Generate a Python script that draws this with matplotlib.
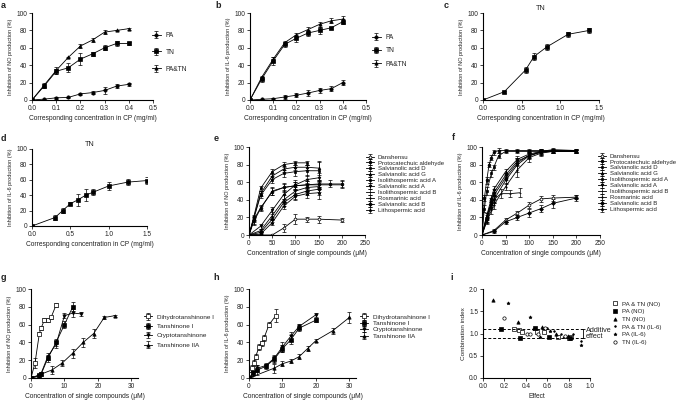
import matplotlib
matplotlib.use("Agg")
import matplotlib.pyplot as plt

plt.rcParams['font.family'] = ['Liberation Sans', 'DejaVu Sans']
plt.rcParams['text.color'] = '#222222'
plt.rcParams['axes.labelcolor'] = '#222222'
plt.rcParams['xtick.color'] = '#222222'
plt.rcParams['ytick.color'] = '#222222'

W, H = 685, 400

# ---- panel a / b: PA, TN, PA&TN in CP ----
cp_x = [0, 0.05, 0.1, 0.15, 0.2, 0.25, 0.3, 0.35, 0.4]
a_pa = [0, 1, 2.5, 3, 7, 8.5, 11, 16, 18]
a_pa_err = [0, 0.5, 1, 1, 1.5, 2, 4, 2, 2]
a_tn = [0, 16, 33, 37, 47, 53, 60, 65, 65]
a_tn_err = [0, 2, 3, 5, 7, 2, 3, 3, 2]
a_pt = [0, 17, 34, 49, 62, 69, 78, 80, 82]
a_pt_err = [0, 2, 4, 1, 2, 2, 2, 1, 1]

b_pa = [0, 0.8, 1.5, 3.5, 5.5, 8, 11, 13, 20]
b_pa_err = [0, 0.5, 1, 2, 2, 3, 3, 3, 3]
b_tn = [0, 24, 45, 64, 71, 77, 80, 83, 90]
b_tn_err = [0, 3, 5, 3, 4, 4, 4, 1, 3]
b_pt = [0, 26, 47, 66, 75, 81, 87, 91, 93]
b_pt_err = [0, 2, 3, 2, 2, 3, 3, 3, 4]

# ---- panel c / d: TN alone ----
c_x = [0, 0.275, 0.55, 0.66, 0.825, 1.1, 1.375]
c_y = [0, 9.5, 34.5, 50, 61, 75.5, 80]
c_err = [0, 1, 3, 4, 3.5, 3, 3]

d_x = [0, 0.3, 0.4, 0.5, 0.6, 0.7, 0.8, 1.0, 1.25, 1.5]
d_y = [0, 11, 20, 29, 34, 40, 44, 52, 57, 59]
d_err = [0, 3, 3, 2, 8, 8, 4, 5, 4, 4]

# ---- panel e / f: single compounds from PA ----
pa_names = ['Danshensu', 'Protocatechuic aldehyde', 'Salvianolic acid D',
            'Salvianolic acid G', 'Isolithospermic acid A', 'Salvianolic acid A',
            'Isolithospermic acid B', 'Rosmarinic acid', 'Salvianolic acid B',
            'Lithospermic acid']

e_x = [
    [0, 25, 50, 75, 100, 125, 150, 200],
    [0, 10, 25, 50, 75, 100, 125, 150, 175, 200],
    [0, 10, 25, 50, 75, 100, 125],
    [0, 10, 25, 50, 75, 100, 125, 150],
    [0, 10, 25, 50, 75, 100, 125, 150],
    [0, 25, 50, 75, 100, 125, 150],
    [0, 10, 25, 50, 75, 100, 125, 150, 200],
    [0, 25, 50, 75, 100, 125, 150],
    [0, 25, 50, 75, 100, 125, 150],
    [0, 25, 50, 75, 100, 125, 150],
]
e_y = [
    [0, 0, 0, 8, 18, 18, 18, 17],
    [0, 17, 31, 49, 54, 56, 57, 58, 58, 58],
    [0, 20, 53, 72, 80, 82, 82],
    [0, 19, 47, 67, 75, 77, 77, 76],
    [0, 18, 45, 63, 70, 72, 73, 73],
    [0, 10, 28, 46, 57, 63, 65],
    [0, 15, 30, 50, 54, 56, 57, 57, 57],
    [0, 5, 22, 40, 50, 54, 55],
    [0, 3, 18, 37, 46, 50, 52],
    [0, 1, 14, 33, 44, 47, 48],
]
e_err = [
    [0, 0, 0, 5, 6, 3, 4, 2],
    [0, 4, 3, 4, 5, 4, 4, 4, 4, 4],
    [0, 3, 3, 3, 3, 2, 2],
    [0, 3, 3, 3, 3, 3, 3, 8],
    [0, 3, 3, 4, 4, 5, 6, 10],
    [0, 3, 4, 5, 6, 5, 5],
    [0, 4, 3, 4, 4, 4, 4, 4, 4],
    [0, 2, 4, 5, 5, 5, 6],
    [0, 2, 3, 4, 5, 5, 6],
    [0, 1, 3, 4, 4, 5, 7],
]

f_x = [
    [0, 25, 50, 75, 100, 125, 150, 200],
    [0, 5, 10, 15, 20, 25, 35, 50, 75, 100, 125, 150, 200],
    [0, 5, 10, 20, 25, 35, 50, 75, 100, 125, 150, 200],
    [0, 10, 20, 25, 50, 75, 100, 125, 150, 200],
    [0, 10, 20, 25, 50, 75, 100, 125, 150, 200],
    [0, 10, 20, 25, 50, 75, 100, 125, 150, 200],
    [0, 10, 20, 25, 40, 60, 80],
    [0, 10, 20, 25, 50, 75, 100, 125, 150, 200],
    [0, 25, 50, 75, 100, 125, 150, 200],
    [0, 10, 20, 25, 50, 75, 100, 125, 150, 200],
]
f_y = [
    [0, 5, 17, 25, 34, 41, 42, 43],
    [0, 42, 62, 80, 88, 94, 96, 96, 96, 96, 96, 96, 96],
    [0, 30, 50, 70, 77, 90, 95, 95, 95, 95, 95, 95],
    [0, 22, 42, 52, 72, 86, 92, 95, 95, 95],
    [0, 20, 38, 48, 68, 84, 90, 94, 96, 95],
    [0, 17, 33, 40, 62, 80, 90, 95, 97, 96],
    [0, 22, 36, 40, 47, 47, 48],
    [0, 15, 28, 34, 55, 74, 88, 93, 95, 96],
    [0, 4, 15, 20, 25, 30, 36, 42],
    [0, 18, 35, 45, 65, 82, 91, 94, 95, 95],
]
f_err = [
    [0, 2, 2, 2, 3, 3, 3, 2],
    [0, 3, 4, 3, 3, 3, 3, 2, 2, 2, 2, 2, 2],
    [0, 4, 5, 4, 3, 3, 2, 2, 2, 2, 2, 2],
    [0, 3, 4, 4, 3, 4, 3, 3, 2, 2],
    [0, 3, 4, 4, 3, 4, 3, 3, 2, 2],
    [0, 3, 4, 4, 4, 8, 4, 3, 2, 2],
    [0, 3, 4, 4, 5, 4, 5],
    [0, 3, 4, 4, 4, 8, 5, 3, 2, 2],
    [0, 2, 2, 3, 4, 4, 5, 3],
    [0, 3, 4, 4, 3, 4, 3, 3, 2, 2],
]
pa_markers = ['o', 'o', 's', '^', 's', 'v', '_', '.', 'D', '*']
pa_fill = ['white'] + ['black'] * 9

# ---- panel g / h: single compounds from TN ----
tn_names = ['Dihydrotanshinone I', 'Tanshinone I', 'Cryptotanshinone', 'Tanshinone IIA']
g_x = [
    [0, 1.2, 2.5, 3, 4, 5, 6, 7.5],
    [0, 2.5, 3, 5, 7.5, 10, 12.5],
    [0, 2.5, 3, 5, 7.5, 10, 12.5, 15],
    [0, 6.25, 9.4, 12.5, 15.6, 18.75, 21.9, 25],
]
g_y = [
    [0, 17, 50, 56, 65, 65, 68, 82],
    [0, 3, 4, 22, 40, 60, 80],
    [0, 2, 5, 24, 38, 70, 73, 72],
    [0, 9, 17, 28, 40, 50, 68, 70],
]
g_err = [
    [0, 6, 2, 2, 2, 2, 2, 2],
    [0, 2, 2, 4, 4, 4, 5],
    [0, 2, 2, 4, 4, 3, 5, 2],
    [0, 4, 3, 5, 5, 5, 2, 1],
]
h_x = [
    [0, 0.5, 1, 1.5, 2, 3, 3.75, 4.5, 6, 8],
    [0, 1.25, 2.5, 5, 7.5, 10, 12.5, 15, 20],
    [0, 1.25, 2.5, 5, 7.5, 10, 12.5, 15, 20],
    [0, 7.5, 10, 12.5, 15, 17.5, 20, 25, 30],
]
h_y = [
    [0, 4, 11, 17, 24, 35, 39, 45, 60, 70],
    [0, 6, 9, 13, 21, 33, 43, 56, 65],
    [0, 5, 11, 14, 22, 35, 47, 58, 71],
    [0, 11, 16, 19, 24, 33, 42, 53, 68],
]
h_err = [
    [0, 3, 4, 3, 3, 3, 3, 3, 3, 7],
    [0, 3, 6, 3, 4, 4, 5, 3, 2],
    [0, 3, 4, 3, 4, 6, 5, 3, 2],
    [0, 5, 3, 2, 3, 3, 2, 3, 6],
]
tn_markers = ['s', 's', 'v', '^']
tn_fill = ['white', 'black', 'black', 'black']

# ---- panel i: combination index ----
ci_names = ['PA & TN (NO)', 'PA (NO)', 'TN (NO)', 'PA & TN (IL-6)', 'PA (IL-6)', 'TN (IL-6)']
ci_x = [
    [0.29, 0.34, 0.36, 0.5, 0.57, 0.7, 0.8, 0.82],
    [0.17, 0.35, 0.49, 0.62, 0.81],
    [0.09, 0.33, 0.55, 0.68, 0.79],
    [0.47, 0.6, 0.66, 0.73, 0.84, 0.92],
    [0.23, 0.44, 0.53, 0.63, 0.76, 0.92],
    [0.2, 0.41, 0.44, 0.51, 0.58, 0.77],
]
ci_y = [
    [1.09, 1.08, 1.04, 1.04, 1.03, 0.93, 0.90, 0.93],
    [1.10, 0.91, 1.12, 0.93, 0.89],
    [1.76, 1.25, 1.14, 1.00, 0.95],
    [1.10, 1.12, 1.05, 1.00, 0.98, 0.83],
    [1.68, 1.38, 0.93, 1.06, 0.93, 0.74],
    [1.34, 0.99, 0.99, 1.00, 1.12, 0.95],
]
ci_markers = ['s', 's', '^', '.', '*', 'o']
ci_fill = ['white', 'black', 'black', 'black', 'black', 'white']

NO_LABEL = 'Inhibition of NO production (%)'
IL_LABEL = 'Inhibition of IL-6 production (%)'
CP_LABEL = 'Corresponding concentration in CP (mg/ml)'
SC_LABEL = 'Concentration of single compounds (\u03bcM)'

fig = plt.figure(figsize=(W / 100, H / 100), dpi=100)


def add(l, t, r, b):
    ax = fig.add_axes([l / W, 1 - b / H, (r - l) / W, (b - t) / H])
    for s in ['top', 'right']:
        ax.spines[s].set_visible(False)
    for s in ['left', 'bottom']:
        ax.spines[s].set_linewidth(0.8)
    ax.tick_params(direction='out', length=2, width=0.6, labelsize=4.7, pad=1.5)
    return ax


def curve(ax, x, y, err, marker, fill, ms=2.4, label=None):
    ax.errorbar(x, y, yerr=err, color='black', lw=0.6, elinewidth=0.5,
                capsize=1.1, capthick=0.5, marker=marker, ms=ms,
                mfc=fill, mec='black', mew=0.5, label=label)


def leg(ax, x_px, y_px, spacing, fs=4.0, hl=1.6):
    fpx = fs * 100 / 72
    ax.legend(loc='upper left', bbox_to_anchor=(x_px / W, 1 - (y_px - fpx * 0.6) / H),
              bbox_transform=fig.transFigure, frameon=False, fontsize=fs,
              borderpad=0, borderaxespad=0, handlelength=hl, handletextpad=0.7,
              labelspacing=(spacing - fpx * 1.15) / fpx)


def labels(ax, xl, yl, xpad=2, ypad=2, xfs=4.8, yfs=4.0):
    ax.set_xlabel(xl, fontsize=xfs, labelpad=xpad)
    ax.set_ylabel(yl, fontsize=yfs, labelpad=ypad)


def tag(x, y, s):
    fig.text(x / W, 1 - y / H, s, fontsize=6.5, fontweight='bold', va='center', ha='left')


# a
ax = add(32, 13, 153, 100)
curve(ax, cp_x, a_pa, a_pa_err, 'o', 'black', label='PA')
curve(ax, cp_x, a_tn, a_tn_err, 's', 'black', label='TN')
curve(ax, cp_x, a_pt, a_pt_err, '^', 'black', label='PA&TN')
ax.set_xlim(0, 0.5)
ax.set_ylim(0, 100)
ax.set_xticks([0, 0.1, 0.2, 0.3, 0.4, 0.5])
labels(ax, CP_LABEL, NO_LABEL)
leg(ax, 152, 36, 17.5, fs=4.8, hl=1.3)

# b
ax = add(250, 13, 366, 100)
curve(ax, cp_x, b_pa, b_pa_err, 'o', 'black', label='PA')
curve(ax, cp_x, b_tn, b_tn_err, 's', 'black', label='TN')
curve(ax, cp_x, b_pt, b_pt_err, '^', 'black', label='PA&TN')
ax.set_xlim(0, 0.5)
ax.set_ylim(0, 100)
ax.set_xticks([0, 0.1, 0.2, 0.3, 0.4, 0.5])
labels(ax, CP_LABEL, IL_LABEL)
leg(ax, 372, 38, 14, fs=4.8, hl=1.3)

# c
ax = add(483, 13, 599, 100)
curve(ax, c_x, c_y, c_err, 's', 'black')
ax.set_xlim(0, 1.5)
ax.set_ylim(0, 100)
ax.set_xticks([0, 0.5, 1.0, 1.5])
ax.set_title('TN', fontsize=5.2, pad=2)
labels(ax, CP_LABEL, NO_LABEL)

# d
ax = add(32, 149, 147, 226)
curve(ax, d_x, d_y, d_err, 's', 'black')
ax.set_xlim(0, 1.5)
ax.set_ylim(0, 100)
ax.set_xticks([0, 0.5, 1.0, 1.5])
ax.set_title('TN', fontsize=5.2, pad=2)
labels(ax, CP_LABEL, IL_LABEL)

# e
ax = add(249, 147, 365, 235)
for i in range(len(pa_names)):
    curve(ax, e_x[i], e_y[i], e_err[i], pa_markers[i], pa_fill[i], ms=2.0, label=pa_names[i])
ax.set_xlim(0, 250)
ax.set_ylim(0, 100)
ax.set_xticks([0, 50, 100, 150, 200, 250])
labels(ax, SC_LABEL, NO_LABEL)
leg(ax, 366, 158, 7.6, fs=4.3, hl=1.3)

# f
ax = add(482, 147, 600, 235)
for i in range(len(pa_names)):
    curve(ax, f_x[i], f_y[i], f_err[i], pa_markers[i], pa_fill[i], ms=2.0, label=pa_names[i])
ax.set_xlim(0, 250)
ax.set_ylim(0, 100)
ax.set_xticks([0, 50, 100, 150, 200, 250])
labels(ax, SC_LABEL, IL_LABEL)
leg(ax, 598, 157, 7.6, fs=4.3, hl=1.3)

# g
ax = add(31, 289, 138, 378)
for i in range(len(tn_names)):
    curve(ax, g_x[i], g_y[i], g_err[i], tn_markers[i], tn_fill[i], label=tn_names[i])
ax.set_xlim(0, 32)
ax.set_ylim(0, 100)
ax.set_xticks([0, 10, 20, 30])
labels(ax, SC_LABEL, NO_LABEL, xpad=2)
leg(ax, 144, 318, 11.3, fs=4.6, hl=1.3)

# h
ax = add(249, 289, 356, 378)
for i in range(len(tn_names)):
    curve(ax, h_x[i], h_y[i], h_err[i], tn_markers[i], tn_fill[i], label=tn_names[i])
ax.set_xlim(0, 32)
ax.set_ylim(0, 100)
ax.set_xticks([0, 10, 20, 30])
labels(ax, SC_LABEL, IL_LABEL, xpad=2)
leg(ax, 360, 318, 8.3, fs=4.6, hl=1.3)

# i
ax = add(483, 289, 590, 378)
for i in range(len(ci_names)):
    ax.plot(ci_x[i], ci_y[i], ls='none', marker=ci_markers[i], ms=2.4,
            mfc=ci_fill[i], mec='black', mew=0.5, color='black', label=ci_names[i])
ax.hlines([1.1, 0.9], 0, 0.93, colors='black', linestyles=(0, (3, 2)), lw=0.7)
ax.errorbar([0.93], [1.0], yerr=[0.1], color='black', elinewidth=0.6, capsize=1.2,
            capthick=0.6, ls='none', fmt='none')
ax.text(0.96, 1.0, 'Additive\neffect', fontsize=5.2, va='center', ha='left',
        linespacing=1.0, clip_on=False)
ax.set_xlim(0, 1.0)
ax.set_ylim(0, 2.0)
ax.set_xticks([0, 0.2, 0.4, 0.6, 0.8, 1.0])
ax.set_yticks([0, 0.5, 1.0, 1.5, 2.0])
labels(ax, 'Effect', 'Combination index', xpad=2, xfs=4.8, yfs=4.6)
leg(ax, 612, 305, 9.4, fs=4.4, hl=1.0)

tag(1, 5, 'a')
tag(215, 5, 'b')
tag(444, 5, 'c')
tag(1, 139, 'd')
tag(214, 139, 'e')
tag(452, 138, 'f')
tag(1, 278, 'g')
tag(213, 278, 'h')
tag(450, 278, 'i')

fig.savefig('out.png', dpi=100)
